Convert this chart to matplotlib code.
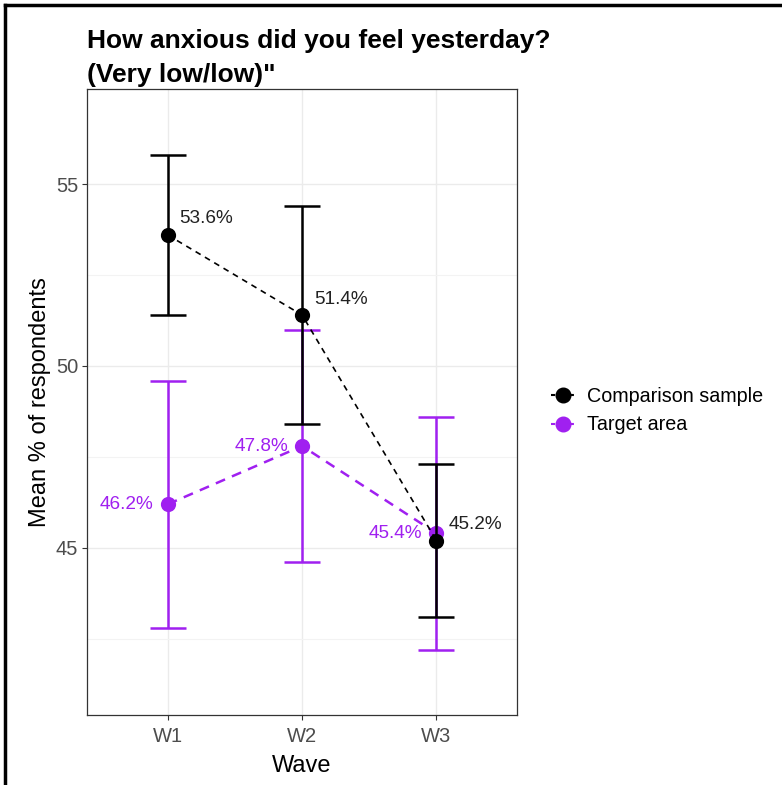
import matplotlib
matplotlib.use("Agg")
import matplotlib.pyplot as plt
from matplotlib.lines import Line2D
import numpy as np

plt.rcParams['font.family'] = ['Liberation Sans', 'DejaVu Sans']

waves = ["W1", "W2", "W3"]
comparison_mean = [53.6, 51.4, 45.2]
comparison_err = [2.2, 3.0, 2.1]
target_mean = [46.2, 47.8, 45.4]
target_err = [3.4, 3.2, 3.2]

BLACK = "#000000"
PURPLE = "#A020F0"

fig = plt.figure(figsize=(7.82, 7.85), dpi=100)
ax = fig.add_axes([0.1113, 0.0892, 0.55, 0.7974])

x = np.arange(1, len(waves) + 1)

# target area series
ax.errorbar(x, target_mean, yerr=target_err, fmt="none", ecolor=PURPLE,
            elinewidth=1.8, capsize=13, capthick=1.8, zorder=3)
ax.plot(x, target_mean, color=PURPLE, lw=1.8, ls=(0, (4, 3)), zorder=3)
ax.scatter(x, target_mean, s=120, color=PURPLE, zorder=4, linewidths=0)

# comparison series
ax.errorbar(x, comparison_mean, yerr=comparison_err, fmt="none", ecolor=BLACK,
            elinewidth=1.8, capsize=13, capthick=1.8, zorder=5)
ax.plot(x, comparison_mean, color=BLACK, lw=1.2, ls=(0, (3.5, 3)), zorder=5)
ax.scatter(x, comparison_mean, s=120, color=BLACK, zorder=6, linewidths=0)

for xi, v in zip(x, comparison_mean):
    ax.annotate(f"{v}%", (xi, v), xytext=(8.5, 11.5), textcoords="offset points",
                ha="left", va="center", fontsize=13.7, color="#222222", zorder=7)
for xi, v in zip(x, target_mean):
    ax.annotate(f"{v}%", (xi, v), xytext=(-10, 0), textcoords="offset points",
                ha="right", va="center", fontsize=13.7, color=PURPLE, zorder=7)

ax.set_xlim(0.4, 3.6)
ax.set_ylim(40.41, 57.61)
ax.set_xticks(x)
ax.set_xticklabels(waves)
ax.set_yticks([45, 50, 55])
ax.set_yticks([42.5, 47.5, 52.5], minor=True)
ax.set_xticks([], minor=True)
ax.grid(True, which="major", color="#EBEBEB", lw=1.0, zorder=0)
ax.grid(True, which="minor", axis="y", color="#F3F3F3", lw=0.8, zorder=0)
ax.set_axisbelow(True)
ax.tick_params(axis="both", which="major", colors="#333333", labelcolor="#4D4D4D",
               labelsize=14.5, length=3.5, width=0.8, pad=3)
ax.tick_params(axis="x", which="major", pad=5.5)
ax.tick_params(axis="y", which="minor", length=0)
for s in ax.spines.values():
    s.set_color("#333333")
    s.set_linewidth(0.9)

ax.set_xlabel("Wave", fontsize=17, labelpad=6)
ax.set_ylabel("Mean % of respondents", fontsize=17, labelpad=3)

fig.text(0.1113, 0.963, "How anxious did you feel yesterday?\n(Very low/low)\"",
         fontsize=19, fontweight="bold", ha="left", va="top", linespacing=1.5)

handles = [
    Line2D([0], [0], color=BLACK, marker="o", markersize=10.5, lw=1.5, ls=(0, (2, 1))),
    Line2D([0], [0], color=PURPLE, marker="o", markersize=10.5, lw=1.5, ls=(0, (2, 1))),
]
fig.legend(handles, ["Comparison sample", "Target area"], loc="center left",
           bbox_to_anchor=(0.682, 0.477), frameon=False, fontsize=14.2,
           handlelength=1.2, handletextpad=0.6, labelspacing=0.5)

# outer frame on left and top edges
fig.add_artist(Line2D([0.006, 0.006], [0, 0.994], color="black", lw=2.5,
                      transform=fig.transFigure))
fig.add_artist(Line2D([0.006, 1.0], [0.994, 0.994], color="black", lw=2.5,
                      transform=fig.transFigure))

fig.savefig("out.png", dpi=100)
